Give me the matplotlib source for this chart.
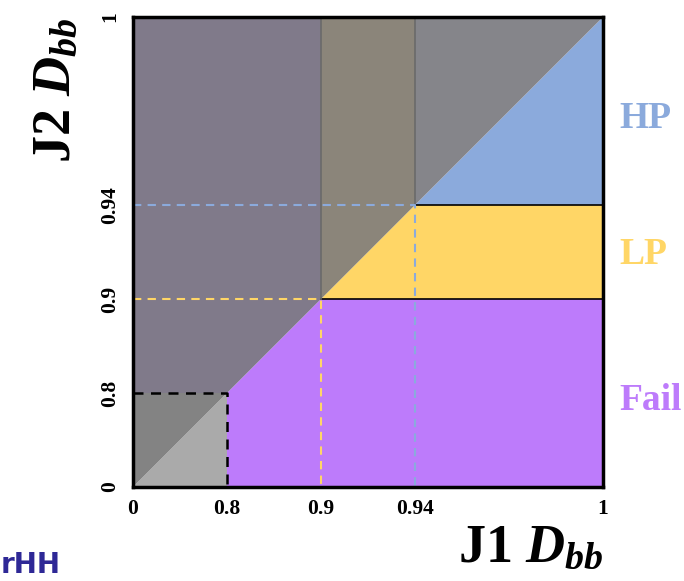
import numpy as np
import matplotlib
matplotlib.use("Agg")
import matplotlib.pyplot as plt

# tick values on both axes (non-linear spacing)
tick_vals = [0, 0.8, 0.9, 0.94, 1]
tick_labels = ["0", "0.8", "0.9", "0.94", "1"]
tick_pos = [0, 0.2, 0.4, 0.6, 1]   # where each tick sits along the axis

# working points
loose = 0.8   # both jets below this -> grey
lp_cut = 0.9
hp_cut = 0.94

categories = ["Fail", "LP", "HP"]
colors = {"Fail": "#bd7bfb", "LP": "#ffd666", "HP": "#8baadc"}
shaded = {"none": "#838383", "Fail": "#807a8a", "LP": "#8b857a", "HP": "#85858a"}

plt.rcParams["font.family"] = ["Liberation Serif", "DejaVu Serif"]
plt.rcParams["mathtext.fontset"] = "custom"
plt.rcParams["mathtext.it"] = "Liberation Serif:italic:bold"
plt.rcParams["mathtext.rm"] = "Liberation Serif:bold"
plt.rcParams["mathtext.bf"] = "Liberation Serif:bold"


def fwd(v):
    return np.interp(v, tick_vals, tick_pos)


def inv(v):
    return np.interp(v, tick_pos, tick_vals)


fig = plt.figure(figsize=(6.84, 5.81), dpi=100)
ax = fig.add_axes([0.1944, 0.1618, 0.6872, 0.8089])
ax.set_xscale("function", functions=(fwd, inv))
ax.set_yscale("function", functions=(fwd, inv))

# below the diagonal (J1 > J2): category set by J2
ax.fill([0, loose, loose], [0, 0, loose], color="#aaaaaa", lw=0)
ax.fill([loose, 1, 1, lp_cut, loose], [0, 0, lp_cut, lp_cut, loose], color=colors["Fail"], lw=0)
ax.fill([lp_cut, 1, 1, hp_cut], [lp_cut, lp_cut, hp_cut, hp_cut], color=colors["LP"], lw=0)
ax.fill([hp_cut, 1, 1], [hp_cut, hp_cut, 1], color=colors["HP"], lw=0)

# above the diagonal (mirror, shaded)
ax.fill([0, 0, loose], [0, loose, loose], color=shaded["none"], lw=0)
ax.fill([0, 0, lp_cut, lp_cut, loose], [loose, 1, 1, lp_cut, loose], color=shaded["Fail"], lw=0)
ax.fill([lp_cut, lp_cut, hp_cut, hp_cut], [lp_cut, 1, 1, hp_cut], color=shaded["LP"], lw=0)
ax.fill([hp_cut, hp_cut, 1], [hp_cut, 1, 1], color=shaded["HP"], lw=0)

# region borders
for t in (lp_cut, hp_cut):
    ax.plot([t, 1], [t, t], color="black", lw=1.2)
    ax.plot([t, t], [t, 1], color="#6a6a6a", lw=1.2)

# dashed working-point guides
for t, c, w in ((loose, "black", 1.8), (lp_cut, colors["LP"], 1.5), (hp_cut, colors["HP"], 1.5)):
    ax.plot([0, t, t], [t, t, 0], color=c, lw=w, ls=(0, (4, 3)))

ax.set_xlim(0, 1)
ax.set_ylim(0, 1)
ax.set_xticks(tick_vals)
ax.set_xticklabels(tick_labels)
ax.set_yticks(tick_vals)
ax.set_yticklabels(tick_labels, rotation=90, va="center")
ax.minorticks_off()
ax.tick_params(length=0, labelsize=15.5, pad=9)
for lab in ax.get_xticklabels() + ax.get_yticklabels():
    lab.set_fontweight("bold")
for sp in ax.spines.values():
    sp.set_linewidth(2.5)

ax.set_xlabel(r"J1 $D_{bb}$", fontsize=39, fontweight="bold", loc="right", labelpad=3)
ax.set_ylabel(r"J2 $D_{bb}$", fontsize=39, fontweight="bold", loc="top", labelpad=14)

for name, yy in zip(categories, [0.185, 0.494, 0.785]):
    ax.text(1.034, yy, name, transform=ax.transAxes, color=colors[name],
            fontsize=27, fontweight="bold", va="center", ha="left")

fig.text(0.001, 0.003, "rHH", color="#2e2896", fontsize=20, fontweight="bold",
         family="DejaVu Sans", ha="left", va="bottom")

fig.savefig("out.png", dpi=100)
